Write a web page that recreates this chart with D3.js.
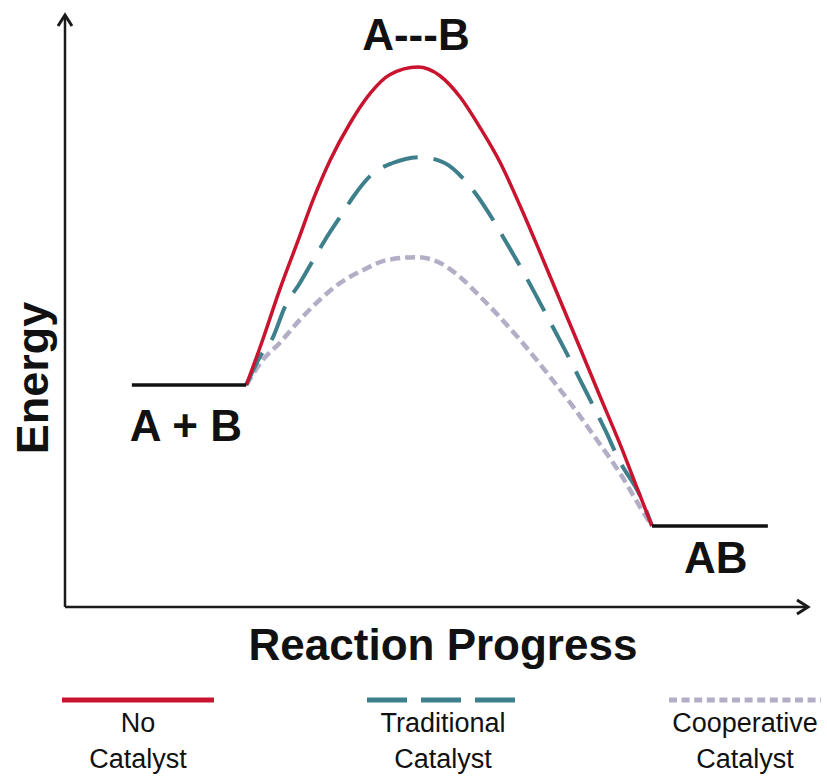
<!DOCTYPE html>
<html>
<head>
<meta charset="utf-8">
<script src="https://cdn.jsdelivr.net/npm/d3@7"></script>
<style>
  html, body { margin: 0; padding: 0; background: #fff; }
  svg { display: block; }
  text { font-family: "Liberation Sans", Arial, sans-serif; fill: #111; }
</style>
</head>
<body>
<svg id="chart" width="827" height="777"></svg>
<script>
// ---- data (progress 0–100 along x, energy 0–100 along y) ----
const seriesNames = ["No Catalyst", "Traditional Catalyst", "Cooperative Catalyst"];
const legendLines = [["No", "Catalyst"], ["Traditional", "Catalyst"], ["Cooperative", "Catalyst"]];

const noCatalyst = [
  [24.4, 37.5], [26.6, 45.1], [28.9, 53.6], [31.4, 62.0], [33.4, 68.8], [35.7, 75.5],
  [38.4, 81.8], [41.1, 86.8], [43.7, 89.9], [47.5, 91.2], [50.5, 89.7], [53.2, 86.1],
  [55.9, 80.9], [58.6, 75.0], [61.2, 67.9], [63.9, 60.0], [66.6, 51.9], [69.3, 43.8],
  [72.0, 35.6], [74.7, 27.5], [77.4, 18.8], [79.0, 13.7]
];
const traditionalCatalyst = [
  [24.4, 37.5], [26.2, 42.2], [28.0, 45.6], [29.6, 50.7], [31.6, 54.7], [33.4, 58.6],
  [35.0, 62.0], [37.4, 66.6], [38.8, 69.3], [41.5, 73.3], [44.1, 75.0], [47.8, 76.0],
  [51.1, 75.0], [53.8, 72.1], [56.5, 67.6], [59.2, 62.0], [61.9, 56.1], [64.6, 49.8],
  [67.3, 43.4], [70.0, 36.7], [72.7, 29.9], [74.7, 24.5], [77.4, 18.8], [79.0, 13.7]
];
const cooperativeCatalyst = [
  [24.4, 37.5], [26.6, 41.7], [28.9, 44.6], [31.6, 48.5], [34.3, 51.9], [37.0, 54.7],
  [40.1, 56.9], [43.3, 58.6], [47.4, 59.1], [50.5, 58.1], [53.2, 55.7], [55.9, 52.4],
  [58.5, 49.0], [61.6, 44.6], [64.9, 39.5], [68.4, 33.8], [71.6, 28.2], [74.7, 22.6],
  [77.4, 16.9], [79.0, 13.7]
];
// energy plateaus: [progress start, progress end, energy]
const levels = [[9.0, 24.4, 37.5], [79.0, 94.6, 13.7]];
const levelLabels = ["A + B", "AB"];
const peakLabel = "A---B";
const axisTitles = { x: "Reaction Progress", y: "Energy" };

// ---- drawing ----
const svg = d3.select("#chart");
const x = d3.scaleLinear().domain([0, 100]).range([65, 808]);
const y = d3.scaleLinear().domain([0, 100]).range([607, 15]);

const styles = [
  { color: "#c9142f", width: 3.5, dash: null, legendDash: null, legendWidth: 5 },
  { color: "#3d7f8b", width: 4, dash: "36,16", legendDash: "40,14", legendWidth: 5 },
  { color: "#b4adc6", width: 4.5, dash: "10,5", legendDash: "8,4.6", legendWidth: 5 }
];
const allSeries = [noCatalyst, traditionalCatalyst, cooperativeCatalyst];

// axes with arrow heads
const axisColor = "#1a1a1a";
svg.append("line").attr("x1", x(0)).attr("y1", y(0)).attr("x2", x(0)).attr("y2", y(100) + 1)
  .attr("stroke", axisColor).attr("stroke-width", 2.5);
svg.append("line").attr("x1", x(0)).attr("y1", y(0)).attr("x2", x(100) - 1).attr("y2", y(0))
  .attr("stroke", axisColor).attr("stroke-width", 2.5);
svg.append("path")
  .attr("d", `M${x(0) - 7},${y(100) + 11} L${x(0)},${y(100)} L${x(0) + 7},${y(100) + 11}`)
  .attr("fill", "none").attr("stroke", axisColor).attr("stroke-width", 3)
  .attr("stroke-linejoin", "miter");
svg.append("path")
  .attr("d", `M${x(100) - 11},${y(0) - 7} L${x(100)},${y(0)} L${x(100) - 11},${y(0) + 7}`)
  .attr("fill", "none").attr("stroke", axisColor).attr("stroke-width", 3)
  .attr("stroke-linejoin", "miter");

// axis titles
svg.append("text").attr("x", 443).attr("y", 660).attr("text-anchor", "middle")
  .attr("font-size", 44).attr("font-weight", "bold").text(axisTitles.x);
svg.append("text").attr("transform", "translate(48,378) rotate(-90)").attr("text-anchor", "middle")
  .attr("font-size", 45).attr("font-weight", "bold").text(axisTitles.y);

// curves (draw back to front)
const line = d3.line().x(d => x(d[0])).y(d => y(d[1])).curve(d3.curveMonotoneX);
[2, 1, 0].forEach(i => {
  svg.append("path").datum(allSeries[i]).attr("d", line)
    .attr("fill", "none").attr("stroke", styles[i].color)
    .attr("stroke-width", styles[i].width)
    .attr("stroke-dasharray", styles[i].dash)
    .attr("stroke-linecap", "butt");
});

// plateaus
svg.selectAll("line.level").data(levels).join("line").attr("class", "level")
  .attr("x1", d => x(d[0])).attr("x2", d => x(d[1]))
  .attr("y1", d => y(d[2])).attr("y2", d => y(d[2]))
  .attr("stroke", "#111").attr("stroke-width", 3.5);

// labels
svg.append("text").attr("x", x(levels[0][0]) - 2).attr("y", y(levels[0][2]) + 56)
  .attr("font-size", 44).attr("font-weight", "bold").text(levelLabels[0]);
svg.append("text").attr("x", x(levels[1][0]) + 32).attr("y", y(levels[1][2]) + 47)
  .attr("font-size", 44).attr("font-weight", "bold").text(levelLabels[1]);
const peak = noCatalyst.reduce((a, b) => (b[1] > a[1] ? b : a));
svg.append("text").attr("x", x(peak[0]) - 2).attr("y", y(peak[1]) - 17).attr("text-anchor", "middle")
  .attr("font-size", 44).attr("font-weight", "bold").text(peakLabel);

// legend
const legendCenters = [138, 443, 745];
const legend = svg.selectAll("g.legend").data(seriesNames).join("g").attr("class", "legend")
  .attr("transform", (d, i) => `translate(${legendCenters[i]},0)`);
legend.append("line").attr("x1", -76).attr("x2", 76).attr("y1", 700).attr("y2", 700)
  .attr("stroke", (d, i) => styles[i].color)
  .attr("stroke-width", (d, i) => styles[i].legendWidth)
  .attr("stroke-dasharray", (d, i) => styles[i].legendDash);
legend.each(function (d, i) {
  const g = d3.select(this);
  legendLines[i].forEach((t, k) => {
    g.append("text").attr("x", 0).attr("y", 732 + k * 36).attr("text-anchor", "middle")
      .attr("font-size", 27).text(t);
  });
});
</script>
</body>
</html>
